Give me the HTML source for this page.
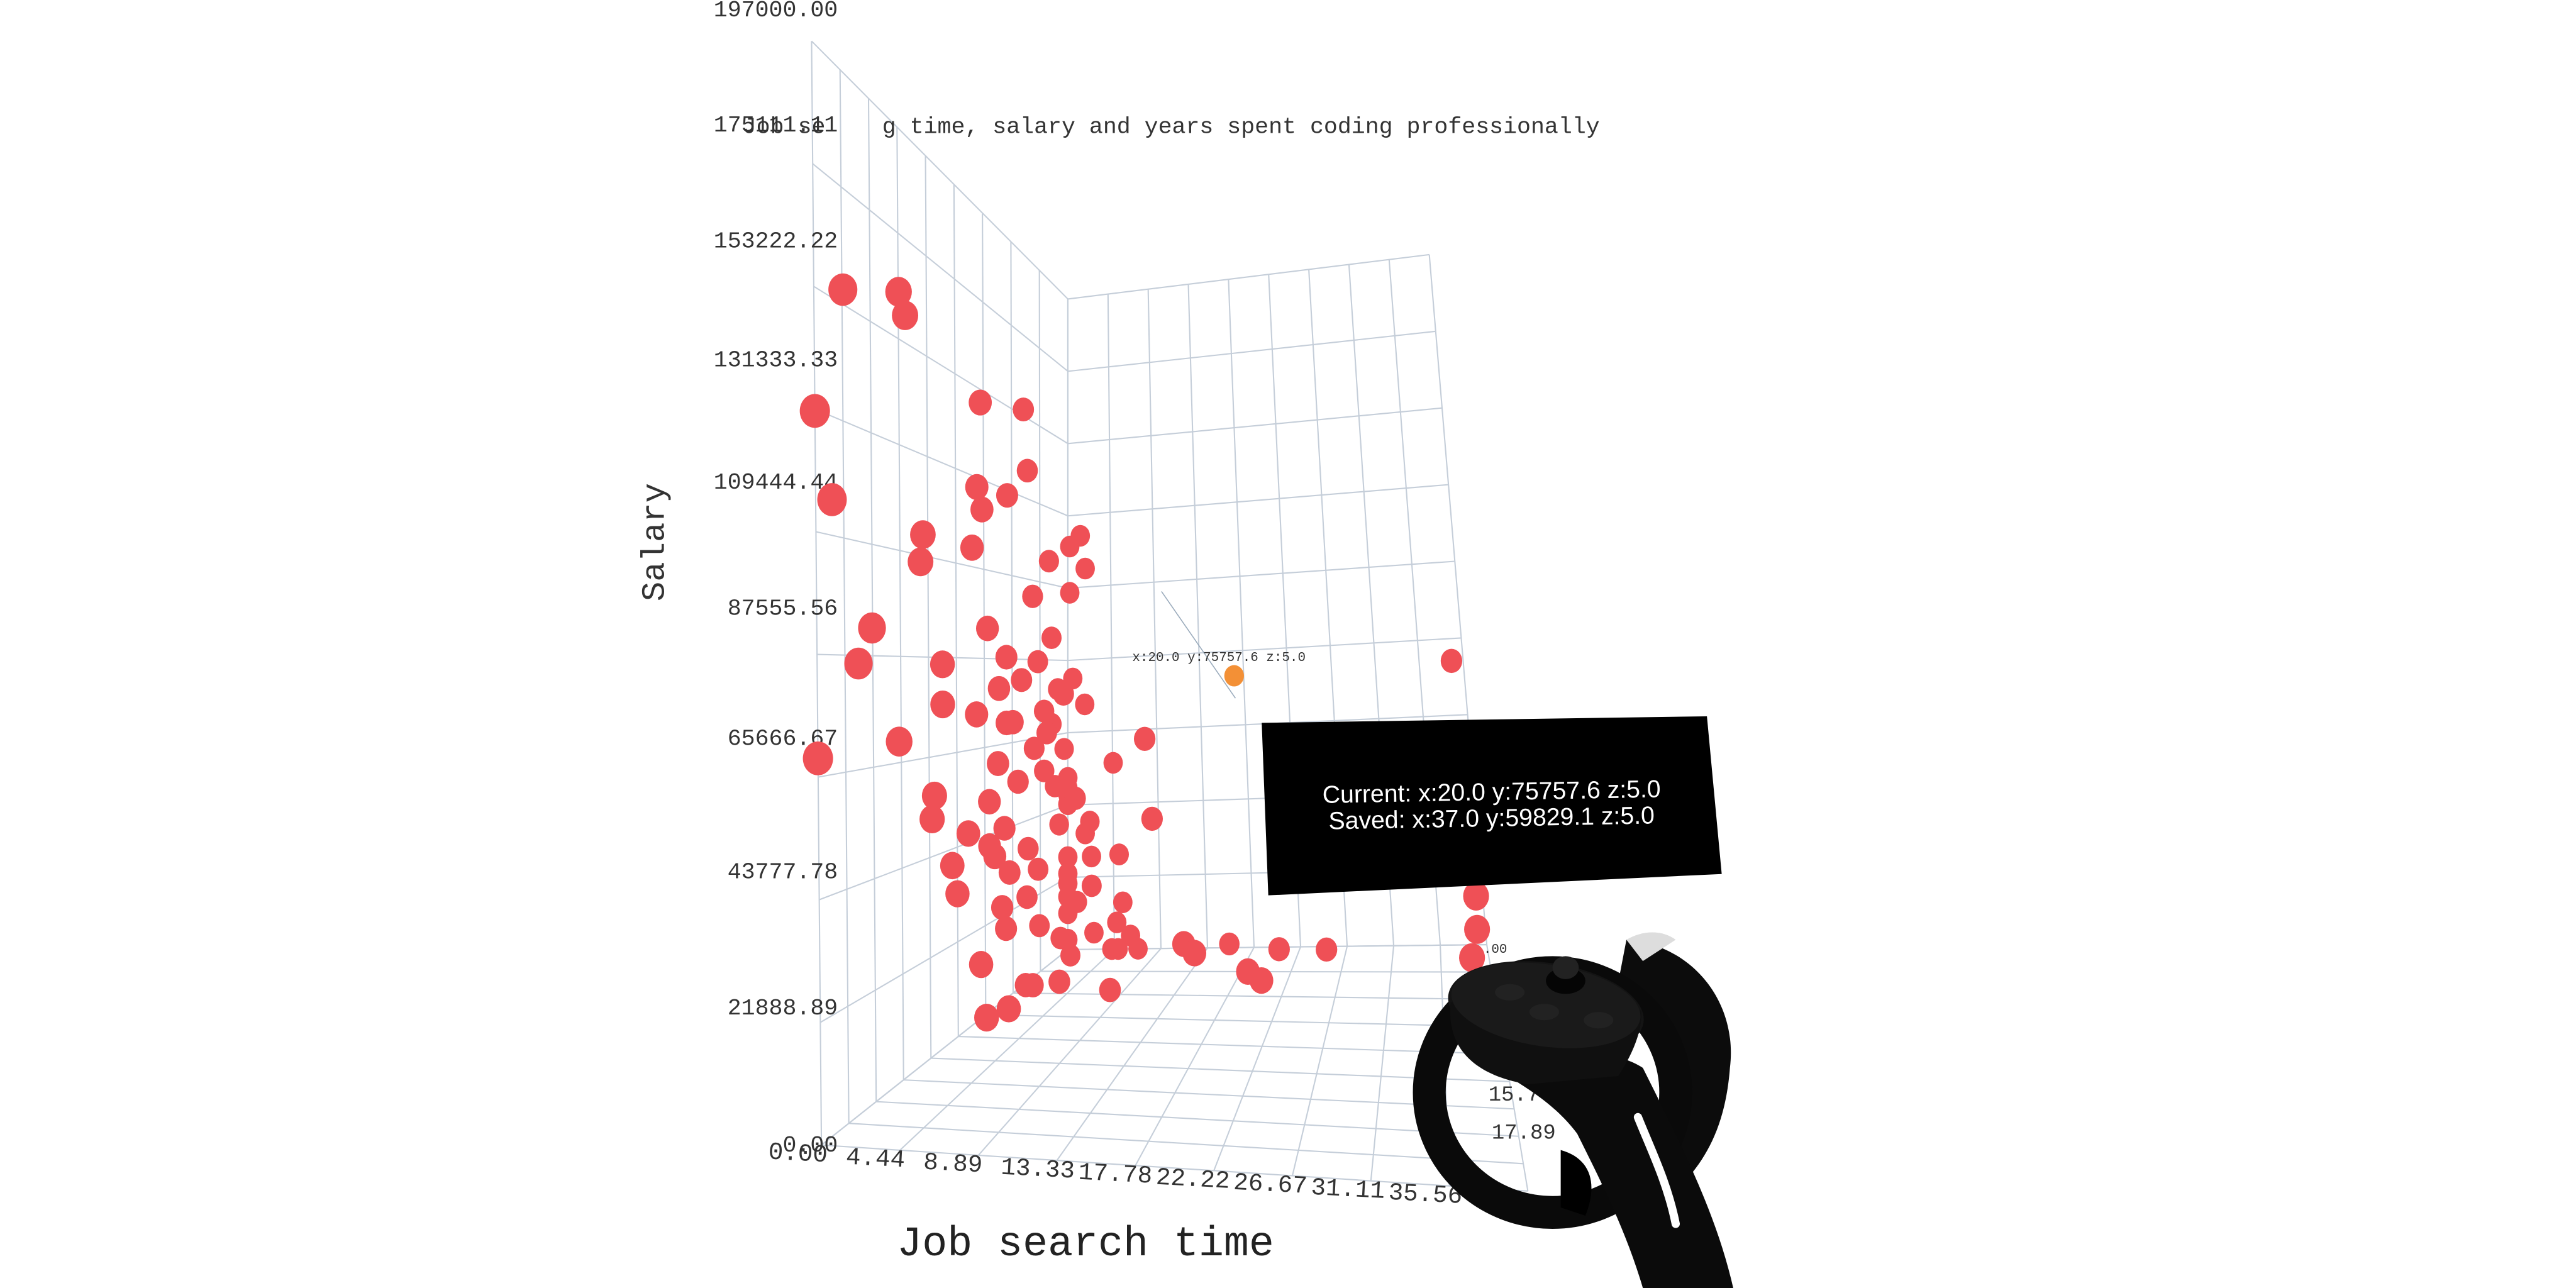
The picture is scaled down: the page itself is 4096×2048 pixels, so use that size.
<!DOCTYPE html>
<html><head><meta charset="utf-8"><style>
html,body{margin:0;padding:0;background:#fff;width:4096px;height:2048px;overflow:hidden}
svg{display:block}
text{font-family:"Liberation Mono",monospace}
</style></head><body>
<svg id="chart" width="4096" height="2048" viewBox="0 0 1568 784" xmlns="http://www.w3.org/2000/svg">
<g id="grid"></g>
<g id="ticks"></g>
<text x="452" y="81" font-size="14" fill="#333">Job se</text>
<text x="537" y="81" font-size="14" fill="#333">g time, salary and years spent coding professionally</text>
<text x="404" y="330" font-size="20" fill="#333" text-anchor="middle" transform="rotate(-90 404 330)">Salary</text>
<text x="546" y="764" font-size="25.5" fill="#222">Job search time</text>
<line x1="707" y1="360" x2="752" y2="425" stroke="#9ab" stroke-width="0.6"/>
<g id="points"></g>
<g id="cursor"></g>
<g>
<polygon points="768,440 1039,436 1048,532 772,545" fill="#000"/>
<text x="908" y="487" font-size="15" fill="#fff" text-anchor="middle" style="font-family:'Liberation Sans',sans-serif" transform="rotate(-1 908 487)">Current:  x:20.0 y:75757.6 z:5.0</text>
<text x="908" y="503" font-size="15" fill="#fff" text-anchor="middle" style="font-family:'Liberation Sans',sans-serif" transform="rotate(-1 908 503)">Saved:  x:37.0 y:59829.1 z:5.0</text>
</g>
<text x="906" y="670" font-size="13" fill="#333">15.7</text>
<text x="908" y="693" font-size="13" fill="#333">17.89</text>
<text x="903" y="580" font-size="8" fill="#333">.00</text>
<g>
<path d="M990,572 C1030,575 1058,610 1053,650 C1050,690 1035,710 1020,725 L1000,700 C1015,680 1022,650 1015,625 C1008,605 995,600 985,598 Z" fill="#0c0c0c"/>
<path d="M990,572 C1000,566 1012,566 1020,572 L1000,585 Z" fill="#ddd"/>
<ellipse cx="945" cy="665" rx="75" ry="73" fill="none" stroke="#0a0a0a" stroke-width="20"/>
<path d="M920,630 C960,640 985,640 1000,650 C1025,700 1045,740 1055,784 L1000,784 C990,750 975,720 960,690 C945,670 925,660 910,650 Z" fill="#0b0b0b"/>
<ellipse cx="941" cy="614" rx="60" ry="28" fill="#141414" transform="rotate(8 941 614)"/>
<path d="M883,610 C880,640 900,655 930,660 L985,655 C995,640 1000,625 999,615 Z" fill="#101010"/>
<ellipse cx="941" cy="612" rx="58" ry="25" fill="#1a1a1a" transform="rotate(8 941 612)"/>
<ellipse cx="919" cy="604" rx="9" ry="5" fill="#222"/>
<ellipse cx="940" cy="616" rx="9" ry="5" fill="#222"/>
<ellipse cx="973" cy="621" rx="9" ry="5" fill="#222"/>
<ellipse cx="953" cy="597" rx="12" ry="8" fill="#050505"/>
<ellipse cx="953" cy="589" rx="8" ry="7" fill="#222"/>
<path d="M997,680 C1005,700 1015,720 1020,745" stroke="#fff" stroke-width="5" stroke-linecap="round" fill="none"/>
<path d="M950,700 C968,705 973,720 965,740 L950,735 Z" fill="#000"/>
</g>
</svg>
<script>
// data: job search time (x), salary (y), years coding professionally (z)
const jobSearch = [0,0,0,0,0,0,0,0,0,0,0,0,0,0,1.8,3,3.8,0,0,0,0,0,0,0,0,0,1.3,0.2,0,1.8,0,0.2,0,0,0,0,0.5,0,0,0,0,1.7,0,0,0,0,0,0.7,4.5,0,0,0,0,0.3,0,0,3.7,0,0,0,1.7,0,0,0,0,0,5.3,2.3,0,0.8,0,3.7,5.3,0,0,0,1.7,0,0,2.5,6,0,1.7,4.2,6.7,4.8,3.8,1.6,8,1,0,15.7,17,22,21,22,26,16.7,11.5,11,38,38,38,37.6,0,0.8,0,2.5,0,0,3.3,4.7];
const salary = [156000,163000,159000,131000,116000,93000,86000,86000,69000,70000,52000,57000,40000,33000,17000,7000,7000,114000,108000,114000,150000,155000,129000,130000,124000,139000,125000,122000,116000,115000,105000,108000,95000,94000,88000,87000,82000,82000,80000,79000,73000,74000,71000,74000,71000,69000,61000,67000,56000,52000,56000,61000,55000,51000,47000,52000,49000,44000,44000,36000,35000,39000,46000,41000,29000,32000,29000,28000,28000,39000,23000,22000,14000,20000,24000,23000,16000,11000,13000,5000,4000,3000,2000,0,0,0,3000,2000,1000,2000,18000,19000,19000,13000,15000,11000,11000,7000,45000,66000,85000,41000,34000,28000,77000,7000,16000,39000,49000,63000,78000,8000,15000];
const years = [2.3,6.7,7.2,0,1.3,4.4,3.3,10,0,6.5,9.1,9.3,10.7,11.1,11,10,11,8.5,8.3,12.4,13.1,16.5,12.8,15.2,13.2,16.8,20,20,18.5,20,17.2,20,13.6,18.7,15.1,17.6,20,16.3,14.5,19.2,18.1,20,15.1,12.7,15.6,18.7,19.7,17.7,20,20,18.1,14.4,16,18.7,20,13.7,17.3,20,14.9,16.8,20,19.3,12,13.7,17.6,15.3,19.7,20,20,13.3,20,18.7,20,20,14.7,16.7,19.3,20,17.7,20,20,20,18.7,20,20,20,15.6,15.6,15.6,15.6,15,13,12,12,12,16,16,18,16,16,16,8,8,8,10,18.7,20,19.7,20,17.3,16.7,20,20];
const xTicks = ["0.00","4.44","8.89","13.33","17.78","22.22","26.67","31.11","35.56"];
const yTicks = ["0.00","21888.89","43777.78","65666.67","87555.56","109444.44","131333.33","153222.22","175111.11","197000.00"];
const cursorPoint = [20, 75757.6, 5];
const X_MAX = 40, Y_MAX = 197000, Z_MAX = 20;

function P(xn, yn, zn) {
  const fx = 500 + 430*xn - 6*yn, fy = 697 + 28*xn - 672*yn;
  const bx = 650 + xn*(255 - 35*yn), by = 578 - 3*xn - yn*(396 + 24*xn);
  return [fx + (bx - fx)*zn, fy + (by - fy)*zn];
}
function proj(x, y, z) { return P(x / X_MAX, y / Y_MAX, z / Z_MAX); }
const NS = "http://www.w3.org/2000/svg";
const grid = document.getElementById('grid');
function gl(a, b) {
  const l = document.createElementNS(NS, 'line');
  
  
  l.setAttribute('x1', a[0]); l.setAttribute('y1', a[1]);
  l.setAttribute('x2', b[0]); l.setAttribute('y2', b[1]);
  l.setAttribute('stroke', '#c5ced9'); l.setAttribute('stroke-width', '0.8');
  grid.appendChild(l);
}
const N = 9;
for (let i = 0; i <= N; i++) {
  const t = i / N;
  gl(P(t, 0, 0), P(t, 0, 1));
  gl(P(0, 0, t), P(1, 0, t));
  gl(P(0, t, 0), P(0, t, 1));
  gl(P(0, 0, t), P(0, 1, t));
  gl(P(t, 0, 1), P(t, 1, 1));
  gl(P(0, t, 1), P(1, t, 1));
}
const ticks = document.getElementById('ticks');
yTicks.forEach((lab, i) => {
  const yn = i / N;
  const p = P(0, yn, 0);
  const t = document.createElementNS(NS, 'text');
  
  
  t.setAttribute('x', 510); t.setAttribute('y', p[1] + 4 - 19*yn - 20*Math.sin(Math.PI*yn));
  t.setAttribute('text-anchor', 'end'); t.setAttribute('font-size', '14');
  t.setAttribute('fill', '#333');
  t.textContent = lab; ticks.appendChild(t);
});
xTicks.forEach((lab, i) => {
  const p = P(i / N, 0, 0);
  const t = document.createElementNS(NS, 'text');
  
  
  t.setAttribute('x', p[0] - 32 - i*0.6); t.setAttribute('y', p[1] + 10);
  t.setAttribute('font-size', '15'); t.setAttribute('fill', '#333');
  t.setAttribute('transform', `rotate(3 ${p[0]} ${p[1]})`);
  t.textContent = lab; ticks.appendChild(t);
});
const pts = document.getElementById('points');
const n = Math.min(jobSearch.length, salary.length, years.length);
const order = [];
for (let i = 0; i < n; i++) order.push(i);
order.sort((a, b) => years[b] - years[a]);
order.forEach(i => {
  if (!isFinite(jobSearch[i]) || !isFinite(salary[i]) || !isFinite(years[i])) return;
  const p = proj(jobSearch[i], salary[i], years[i]);
  const r = 9.2 - 3.3 * (years[i] / Z_MAX);
  const e = document.createElementNS(NS, 'ellipse');
  
  
  e.setAttribute('cx', p[0]); e.setAttribute('cy', p[1]);
  e.setAttribute('rx', r); e.setAttribute('ry', r * 1.12);
  e.setAttribute('fill', '#ef5056');
  pts.appendChild(e);
});
const cg = document.getElementById('cursor');
const cp = proj(cursorPoint[0], cursorPoint[1], cursorPoint[2]);
const cx = cp[0] + 24, cy = cp[1] - 33;
const ce = document.createElementNS(NS, 'ellipse');


ce.setAttribute('cx', cx); ce.setAttribute('cy', cy);
ce.setAttribute('rx', 6); ce.setAttribute('ry', 6.5); ce.setAttribute('fill', '#f39036');
cg.appendChild(ce);
const ct = document.createElementNS(NS, 'text');


ct.setAttribute('x', cx - 62); ct.setAttribute('y', cy - 9);
ct.setAttribute('font-size', '8'); ct.setAttribute('fill', '#333');
ct.textContent = `x:${cursorPoint[0].toFixed(1)} y:${cursorPoint[1].toFixed(1)} z:${cursorPoint[2].toFixed(1)}`;
cg.appendChild(ct);
</script>
</body></html>
